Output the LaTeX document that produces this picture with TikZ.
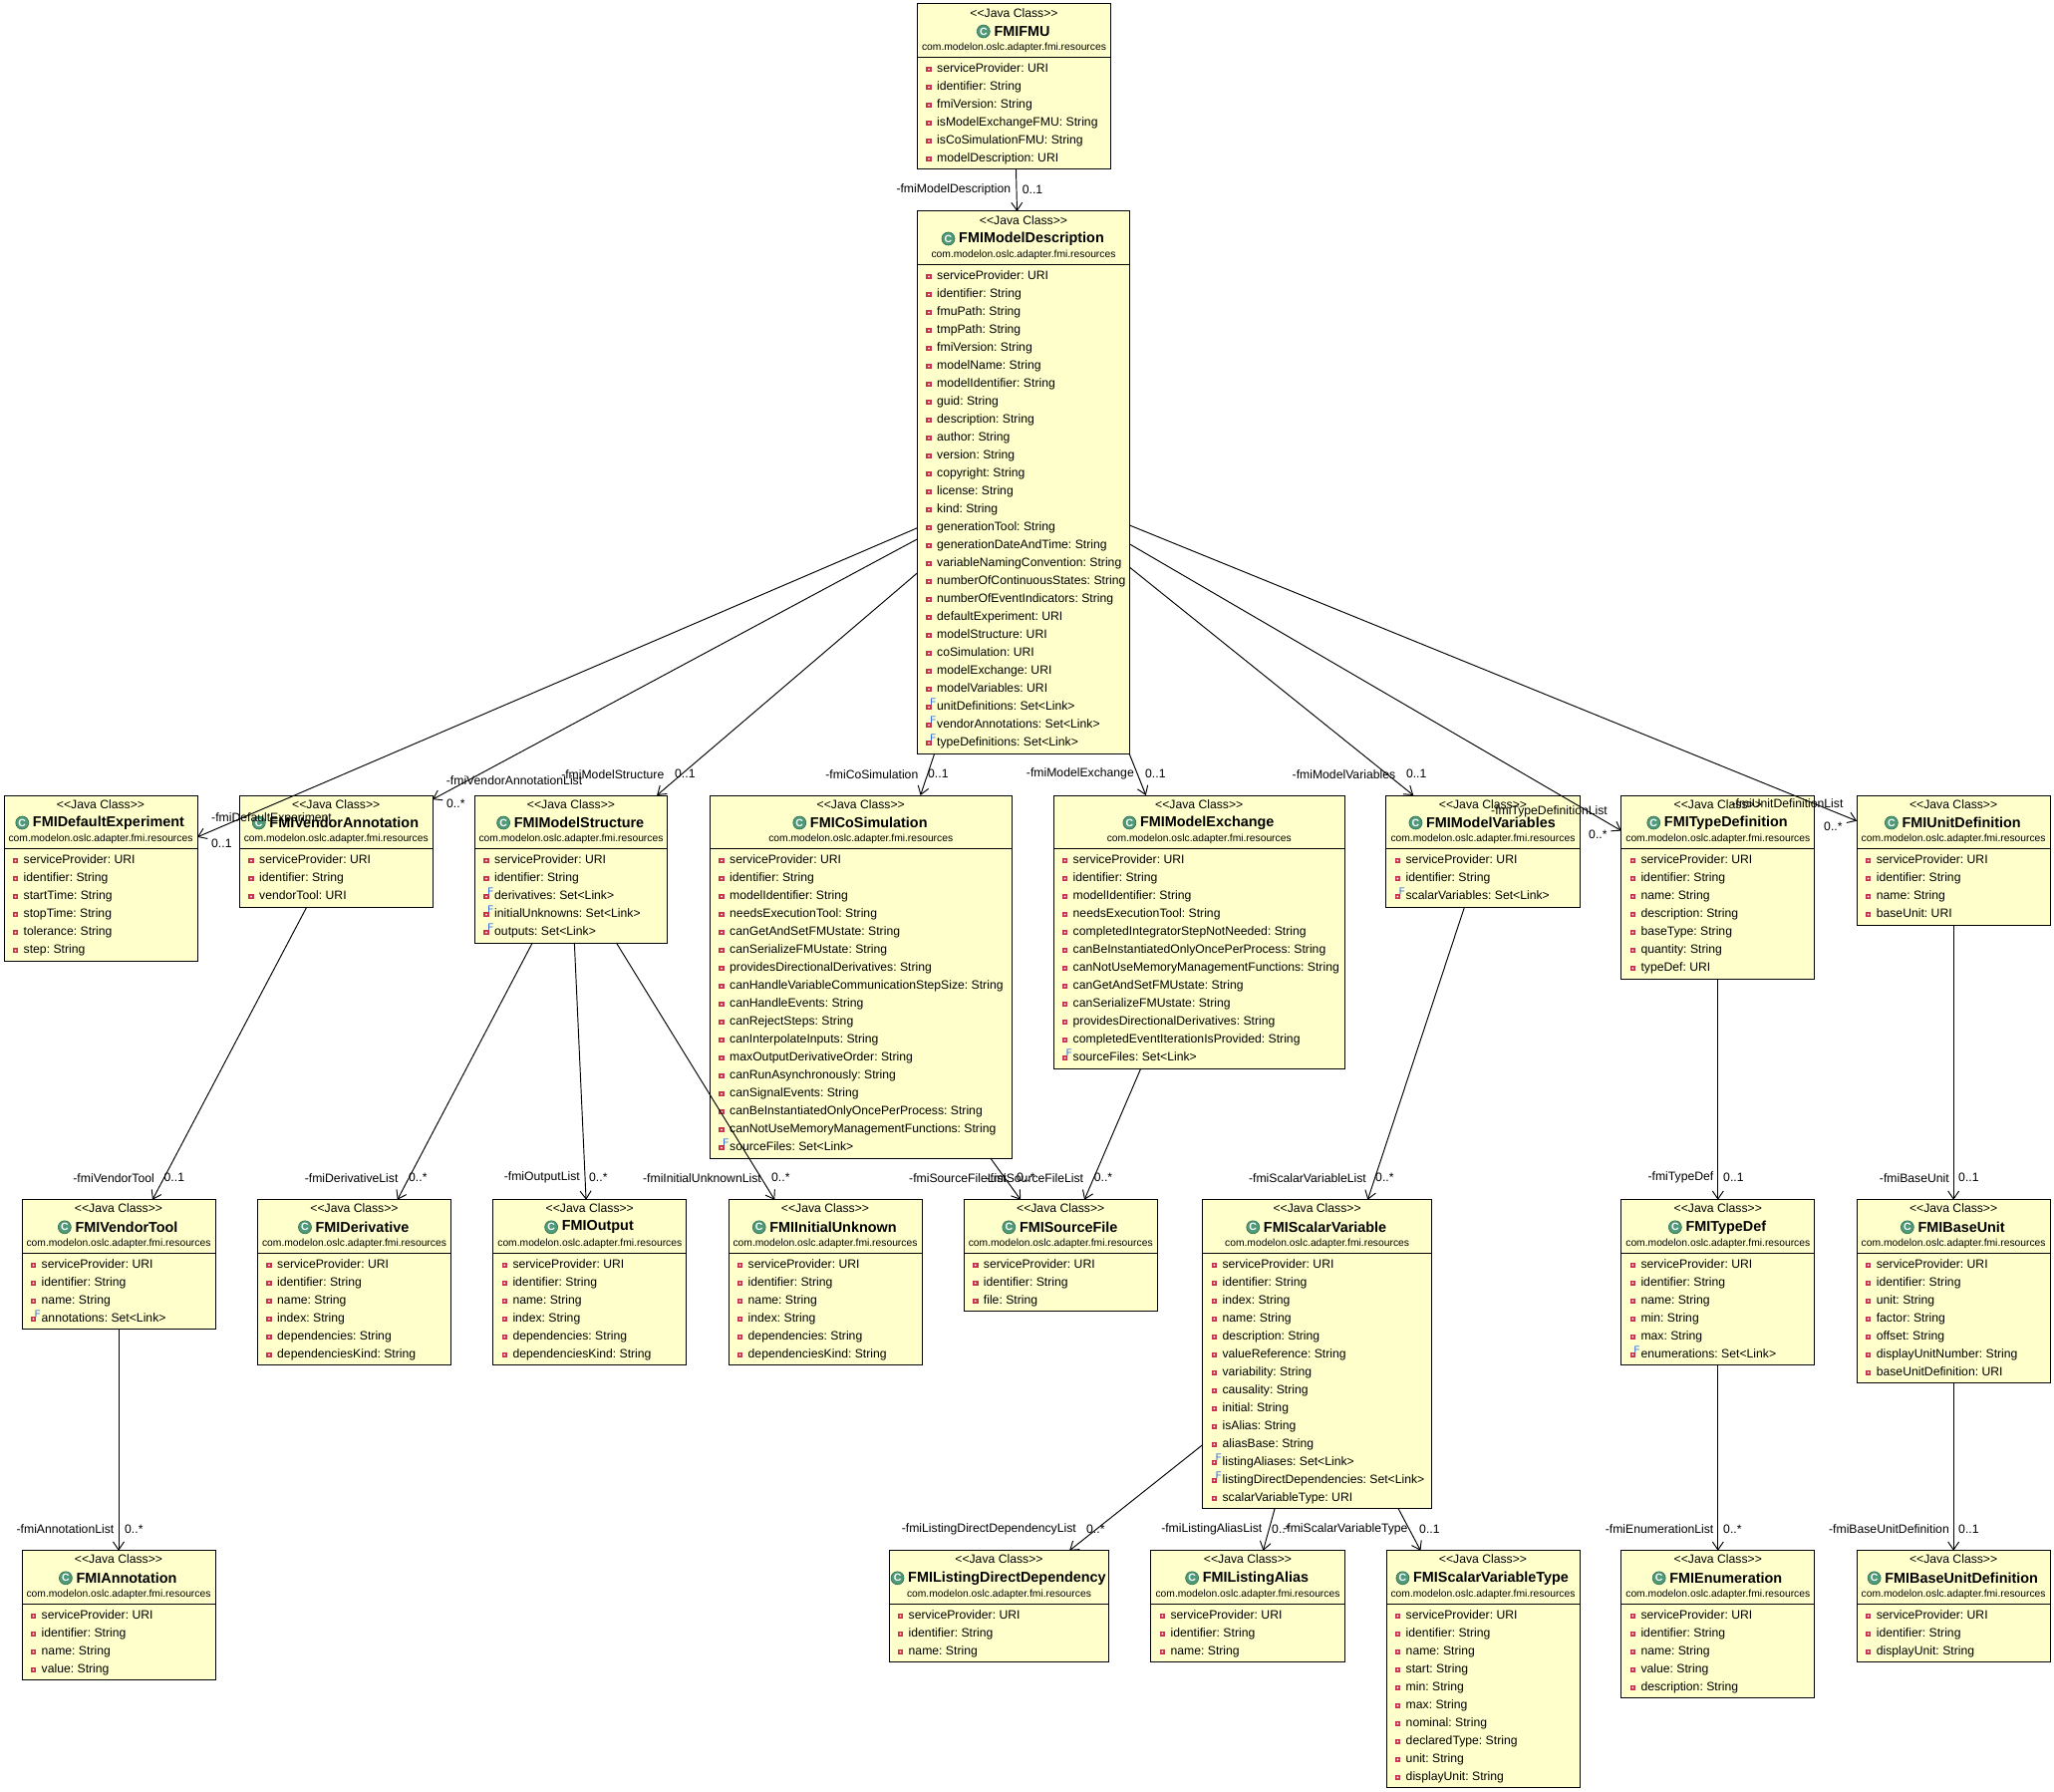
\documentclass[tikz,border=0pt]{standalone}
\usepackage{fontspec}
\setmainfont{Liberation Sans}
\usetikzlibrary{arrows.meta,calc}
\frenchspacing
\definecolor{boxfill}{HTML}{FFFFCC}
\definecolor{icongreen}{HTML}{4F9A78}
\definecolor{iconedge}{HTML}{2E6B4F}
\definecolor{privred}{HTML}{C8324A}
\definecolor{finalblue}{HTML}{2060E0}
\tikzset{
  classbox/.style={draw=black,fill=boxfill,line width=1pt,rectangle,inner sep=0pt,outer sep=0pt},
  stereo/.style={font=\fontsize{12.2}{14}\selectfont,inner sep=0pt,anchor=center},
  classtitle/.style={font=\fontsize{14.4}{16}\selectfont\bfseries,inner sep=0pt,anchor=center},
  pkgname/.style={font=\fontsize{10.3}{12}\selectfont,inner sep=0pt,anchor=center},
  attr/.style={font=\fontsize{12.2}{14}\selectfont,inner sep=0pt,anchor=west},
  classicon/.style={circle,fill=icongreen,draw=iconedge,line width=.6pt,minimum size=13pt,inner sep=0pt,text=white,font=\fontsize{10.5}{10}\selectfont\bfseries},
  privmark/.style={rectangle,fill=privred,draw=privred,line width=.8pt,minimum size=4.5pt,inner sep=0pt},
  assoc/.style={draw=black,line width=.95pt,-{Straight Barb[length=8pt,width=11pt,line width=.95pt]}},
  lbl/.style={font=\fontsize{12.2}{14}\selectfont,inner sep=0pt},
  role/.style={lbl,anchor=east},
  rolel/.style={lbl,anchor=west},
  mult/.style={lbl,anchor=west},
}
\newcommand{\F}[1]{\smash{\llap{\raisebox{4.6pt}{\textcolor{finalblue}{\fontsize{9.5}{10}\selectfont F}}\hspace{1pt}}}#1}
% name, x1, x2, top, number of rows, title, rows
\newcommand{\umlclass}[7]{%
  \pgfmathsetmacro{\cx}{(#2+#3)/2}%
  \pgfmathsetmacro{\cy}{#4+(59+18*#5)/2}%
  \pgfmathsetmacro{\boxw}{#3-#2-1}%
  \pgfmathsetmacro{\boxh}{59+18*#5-1}%
  \node[classbox,minimum width=\boxw pt,minimum height=\boxh pt] (#1) at (\cx,\cy) {};
  \node[stereo] (#1-st) at (\cx,#4+9.2) {<{}<Java Class>{}>};
  \node[classtitle] (#1-ti) at (\cx+8,#4+28) {#6};
  \node[classicon] (#1-ic) at ($(#1-ti.west)+(-10.5,0)$) {C};
  \node[pkgname] (#1-pk) at (\cx,#4+44.5) {com.modelon.oslc.adapter.fmi.resources};
  \draw[line width=1pt] (#2,#4+54) -- (#3,#4+54);
  \foreach \rowtext [count=\i] in {#7} {
    \pgfmathsetmacro{\ry}{#4+65.7+18*(\i-1)}
    \node[privmark] (#1-m\i) at (#2+12,\ry+.3) {};
    \fill[white] (#2+12,\ry+.3) circle (1pt);
    \node[attr,text height=9pt,text depth=3pt] (#1-a\i) at (#2+20,\ry) {\rowtext};
  }
}
\begin{document}
\begin{tikzpicture}[x=1pt,y=-1pt]
\useasboundingbox (0,0) rectangle (2061,1798);
\fill[white] (0,0) rectangle (2061,1798);

\umlclass{fmu}{920}{1115}{3.5}{6}{FMIFMU}{serviceProvider: URI,identifier: String,fmiVersion: String,isModelExchangeFMU: String,isCoSimulationFMU: String,modelDescription: URI}
\umlclass{md}{920}{1134}{211.5}{27}{FMIModelDescription}{serviceProvider: URI,identifier: String,fmuPath: String,tmpPath: String,fmiVersion: String,modelName: String,modelIdentifier: String,guid: String,description: String,author: String,version: String,copyright: String,license: String,kind: String,generationTool: String,generationDateAndTime: String,variableNamingConvention: String,numberOfContinuousStates: String,numberOfEventIndicators: String,defaultExperiment: URI,modelStructure: URI,coSimulation: URI,modelExchange: URI,modelVariables: URI,\F{unitDefinitions: Set<Link>},\F{vendorAnnotations: Set<Link>},\F{typeDefinitions: Set<Link>}}

\umlclass{de}{3.5}{198.5}{797.5}{6}{FMIDefaultExperiment}{serviceProvider: URI,identifier: String,startTime: String,stopTime: String,tolerance: String,step: String}
\umlclass{va}{240}{434.5}{797.5}{3}{FMIVendorAnnotation}{serviceProvider: URI,identifier: String,vendorTool: URI}
\umlclass{ms}{476}{670}{797.5}{5}{FMIModelStructure}{serviceProvider: URI,identifier: String,\F{derivatives: Set<Link>},\F{initialUnknowns: Set<Link>},\F{outputs: Set<Link>}}
\umlclass{cs}{712}{1015.5}{797.5}{17}{FMICoSimulation}{serviceProvider: URI,identifier: String,modelIdentifier: String,needsExecutionTool: String,canGetAndSetFMUstate: String,canSerializeFMUstate: String,providesDirectionalDerivatives: String,canHandleVariableCommunicationStepSize: String,canHandleEvents: String,canRejectSteps: String,canInterpolateInputs: String,maxOutputDerivativeOrder: String,canRunAsynchronously: String,canSignalEvents: String,canBeInstantiatedOnlyOncePerProcess: String,canNotUseMemoryManagementFunctions: String,\F{sourceFiles: Set<Link>}}
\umlclass{me}{1056.5}{1350}{797.5}{12}{FMIModelExchange}{serviceProvider: URI,identifier: String,modelIdentifier: String,needsExecutionTool: String,completedIntegratorStepNotNeeded: String,canBeInstantiatedOnlyOncePerProcess: String,canNotUseMemoryManagementFunctions: String,canGetAndSetFMUstate: String,canSerializeFMUstate: String,providesDirectionalDerivatives: String,completedEventIterationIsProvided: String,\F{sourceFiles: Set<Link>}}
\umlclass{mv}{1390.4}{1585.5}{797.5}{3}{FMIModelVariables}{serviceProvider: URI,identifier: String,\F{scalarVariables: Set<Link>}}
\umlclass{td}{1626.3}{1821.3}{797.5}{7}{FMITypeDefinition}{serviceProvider: URI,identifier: String,name: String,description: String,baseType: String,quantity: String,typeDef: URI}
\umlclass{ud}{1862.6}{2057.7}{797.5}{4}{FMIUnitDefinition}{serviceProvider: URI,identifier: String,name: String,baseUnit: URI}

\umlclass{vt}{21.5}{216.5}{1203.3}{4}{FMIVendorTool}{serviceProvider: URI,identifier: String,name: String,\F{annotations: Set<Link>}}
\umlclass{dv}{258}{453}{1203.3}{6}{FMIDerivative}{serviceProvider: URI,identifier: String,name: String,index: String,dependencies: String,dependenciesKind: String}
\umlclass{ou}{494.3}{689.3}{1203.3}{6}{FMIOutput}{serviceProvider: URI,identifier: String,name: String,index: String,dependencies: String,dependenciesKind: String}
\umlclass{iu}{730.5}{925.5}{1203.3}{6}{FMIInitialUnknown}{serviceProvider: URI,identifier: String,name: String,index: String,dependencies: String,dependenciesKind: String}
\umlclass{sf}{966.7}{1161.7}{1203.3}{3}{FMISourceFile}{serviceProvider: URI,identifier: String,file: String}
\umlclass{sv}{1206.4}{1436.8}{1203.3}{14}{FMIScalarVariable}{serviceProvider: URI,identifier: String,index: String,name: String,description: String,valueReference: String,variability: String,causality: String,initial: String,isAlias: String,aliasBase: String,\F{listingAliases: Set<Link>},\F{listingDirectDependencies: Set<Link>},scalarVariableType: URI}
\umlclass{tf}{1626.3}{1821.3}{1203.3}{6}{FMITypeDef}{serviceProvider: URI,identifier: String,name: String,min: String,max: String,\F{enumerations: Set<Link>}}
\umlclass{bu}{1862.6}{2057.7}{1203.3}{7}{FMIBaseUnit}{serviceProvider: URI,identifier: String,unit: String,factor: String,offset: String,displayUnitNumber: String,baseUnitDefinition: URI}

\umlclass{an}{21.5}{216.5}{1555.3}{4}{FMIAnnotation}{serviceProvider: URI,identifier: String,name: String,value: String}
\umlclass{ld}{891.5}{1113.4}{1555.3}{3}{FMIListingDirectDependency}{serviceProvider: URI,identifier: String,name: String}
\umlclass{la}{1154.4}{1349.6}{1555.3}{3}{FMIListingAlias}{serviceProvider: URI,identifier: String,name: String}
\umlclass{st}{1390.5}{1585.5}{1555.3}{10}{FMIScalarVariableType}{serviceProvider: URI,identifier: String,name: String,start: String,min: String,max: String,nominal: String,declaredType: String,unit: String,displayUnit: String}
\umlclass{en}{1626.3}{1821.3}{1555.3}{5}{FMIEnumeration}{serviceProvider: URI,identifier: String,name: String,value: String,description: String}
\umlclass{bd}{1862.6}{2057.7}{1555.3}{3}{FMIBaseUnitDefinition}{serviceProvider: URI,identifier: String,displayUnit: String}

\foreach \a/\b in {fmu/md,md/de,md/va,md/ms,md/cs,md/me,md/mv,md/td,md/ud,va/vt,vt/an,ms/dv,ms/ou,ms/iu,cs/sf,me/sf,mv/sv,td/tf,ud/bu,sv/ld,sv/la,sv/st,tf/en,bu/bd}
  \draw[assoc] (\a) -- (\b);

% labels
\node[role] (l1) at (1014.3,190) {-fmiModelDescription};
\node[mult] (m1) at (1025.7,190) {0..1};
\node[rolel] (l2) at (212,821.7) {-fmiDefaultExperiment};
\node[mult] (m2) at (212,846) {0..1};
\node[rolel] (l3) at (447.7,782.7) {-fmiVendorAnnotationList};
\node[mult] (m3) at (448,806.7) {0..*};
\node[role] (l4) at (666.5,776.7) {-fmiModelStructure};
\node[mult] (m4) at (677,776.7) {0..1};
\node[role] (l5) at (921.5,776.7) {-fmiCoSimulation};
\node[mult] (m5) at (931,776.7) {0..1};
\node[role] (l6) at (1138,776.7) {-fmiModelExchange};
\node[mult] (m6) at (1149,776.7) {0..1};
\node[role] (l7) at (1400.4,776.7) {-fmiModelVariables};
\node[mult] (m7) at (1410.8,776.7) {0..1};
\node[role] (l8) at (1613,814) {-fmiTypeDefinitionList};
\node[mult] (m8) at (1594,837.7) {0..*};
\node[role] (l9) at (1849.6,805.7) {-fmiUnitDefinitionList};
\node[mult] (m9) at (1830,829) {0..*};
\node[role] (l10) at (155,1181.7) {-fmiVendorTool};
\node[mult] (m10) at (164.5,1181.7) {0..1};
\node[role] (l11) at (399.6,1181.7) {-fmiDerivativeList};
\node[mult] (m11) at (410,1181.7) {0..*};
\node[role] (l12) at (582,1181.7) {-fmiOutputList};
\node[mult] (m12) at (591,1181.7) {0..*};
\node[role] (l13) at (764,1181.7) {-fmiInitialUnknownList};
\node[mult] (m13) at (774,1181.7) {0..*};
\node[rolel] (l14) at (912,1181.7) {-fmiSourceFileList};
\node[mult] (m14) at (1020,1181.7) {0..*};
\node[role] (l15) at (1087.3,1181.7) {-fmiSourceFileList};
\node[mult] (m15) at (1097.7,1181.7) {0..*};
\node[role] (l16) at (1371,1181.7) {-fmiScalarVariableList};
\node[mult] (m16) at (1380,1181.7) {0..*};
\node[role] (l17) at (1719.5,1181.7) {-fmiTypeDef};
\node[mult] (m17) at (1729,1181.7) {0..1};
\node[role] (l18) at (1956,1181.7) {-fmiBaseUnit};
\node[mult] (m18) at (1965,1181.7) {0..1};
\node[role] (l19) at (114.5,1534) {-fmiAnnotationList};
\node[mult] (m19) at (125,1534) {0..*};
\node[role] (l20) at (1080,1534) {-fmiListingDirectDependencyList};
\node[mult] (m20) at (1090,1534) {0..*};
\node[role] (l21) at (1266.5,1534) {-fmiListingAliasList};
\node[mult] (m21) at (1276,1534) {0..*};
\node[role] (l22) at (1412.7,1534) {-fmiScalarVariableType};
\node[mult] (m22) at (1424,1534) {0..1};
\node[role] (l23) at (1719.5,1534) {-fmiEnumerationList};
\node[mult] (m23) at (1729,1534) {0..*};
\node[role] (l24) at (1956,1534) {-fmiBaseUnitDefinition};
\node[mult] (m24) at (1965,1534) {0..1};
\end{tikzpicture}
\end{document}
